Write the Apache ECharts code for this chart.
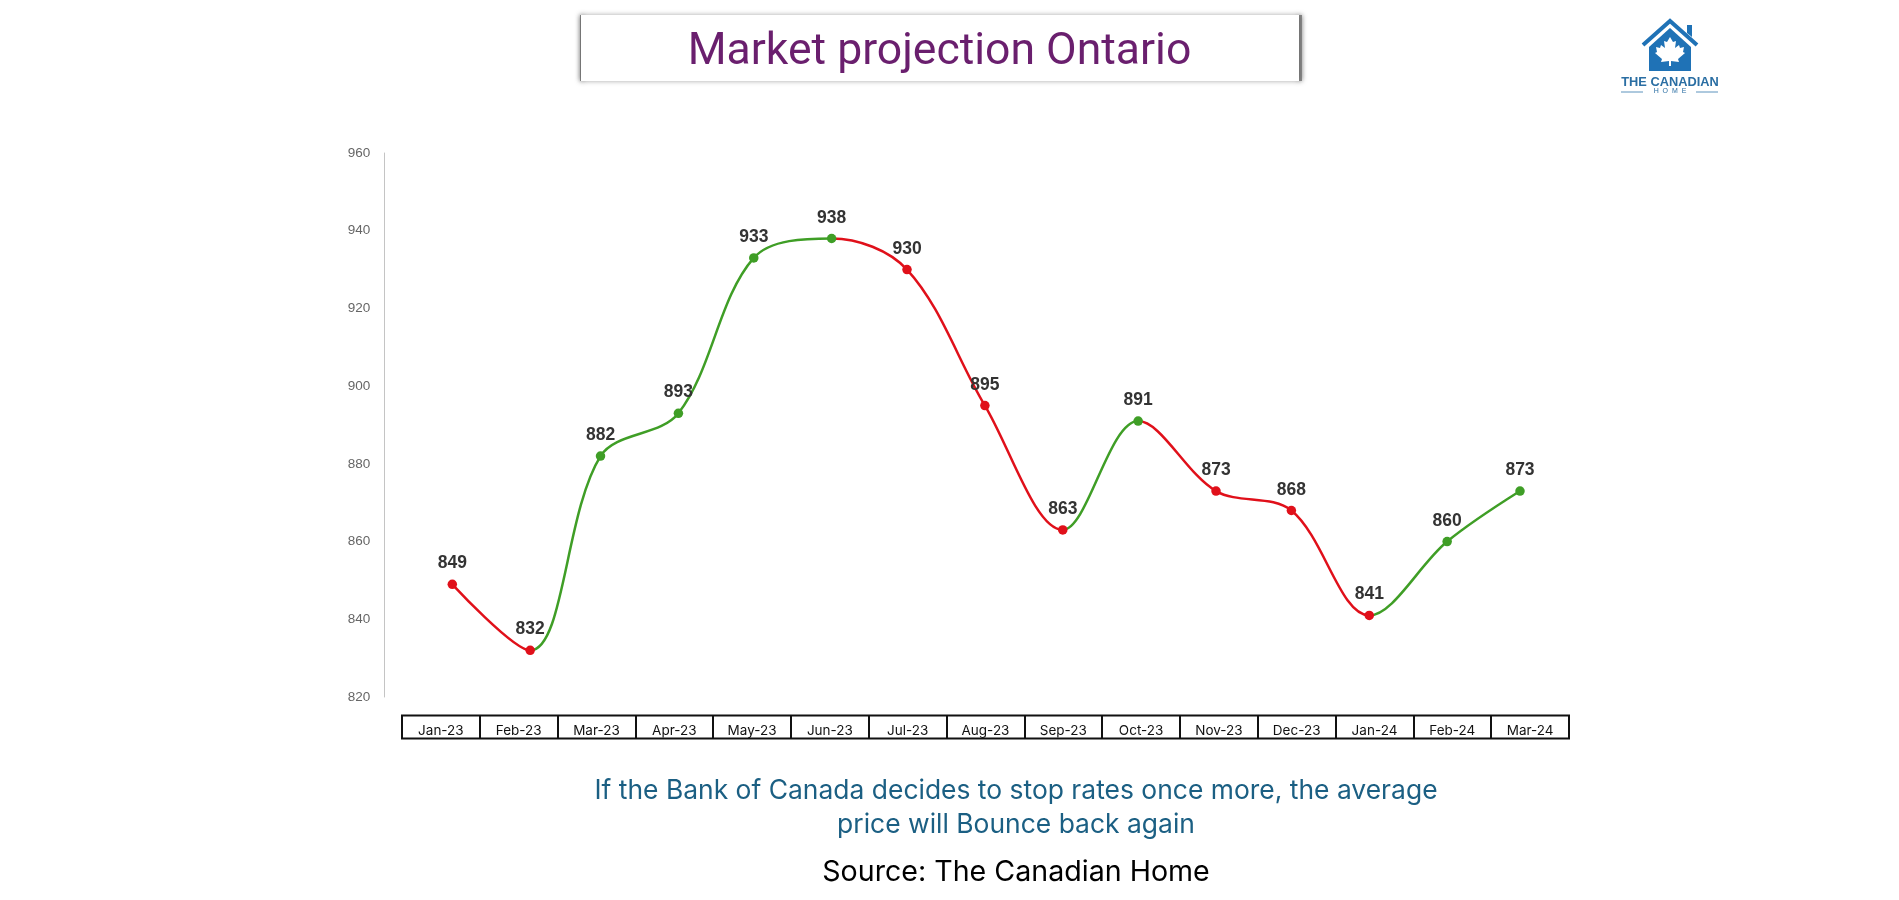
<!DOCTYPE html>
<html>
<head>
<meta charset="utf-8">
<title>Market projection Ontario</title>
<script src="https://cdn.jsdelivr.net/npm/echarts@6/dist/echarts.min.js"></script>
<style>
  html, body { margin: 0; padding: 0; background: #fff; }
  #chart { width: 1899px; height: 900px; }
</style>
</head>
<body>
<div id="chart"></div>
<script>
// Average price by month, in thousands
const months = ['Jan-23','Feb-23','Mar-23','Apr-23','May-23','Jun-23','Jul-23','Aug-23','Sep-23','Oct-23','Nov-23','Dec-23','Jan-24','Feb-24','Mar-24'];
const monthStarts = ['2023-01-01','2023-02-01','2023-03-01','2023-04-01','2023-05-01','2023-06-01','2023-07-01','2023-08-01','2023-09-01','2023-10-01','2023-11-01','2023-12-01','2024-01-01','2024-02-01','2024-03-01'];
const prices = [849, 832, 882, 893, 933, 938, 930, 895, 863, 891, 873, 868, 841, 860, 873];

const RED = '#e0101a';
const GREEN = '#3f9e26';
const BLUE = '#1f72b6';

const stamp = s => Date.parse(s + 'T00:00:00Z');

// Falling stretches are red, rising stretches green, split at the turning months
const trendPieces = [
  { lte: stamp('2023-02-01'), color: RED },
  { gt: stamp('2023-02-01'), lte: stamp('2023-06-01'), color: GREEN },
  { gt: stamp('2023-06-01'), lte: stamp('2023-09-01'), color: RED },
  { gt: stamp('2023-09-01'), lte: stamp('2023-10-01'), color: GREEN },
  { gt: stamp('2023-10-01'), lte: stamp('2024-01-01'), color: RED },
  { gt: stamp('2024-01-01'), color: GREEN }
];

const chart = echarts.init(document.getElementById('chart'));

chart.setOption({
  animation: false,
  backgroundColor: '#fff',
  title: {
    text: 'Market projection Ontario',
    left: 934.5, top: 25, textAlign: 'center',
    textStyle: { color: '#6a1f6e', fontFamily: 'Roboto', fontWeight: 400, fontSize: 44.5 }
  },
  grid: [
    { left: 452.3, top: 153, width: 1067.7, height: 544 },
    { left: 402, top: 715.5, width: 1167, height: 23, show: true,
      borderColor: '#111', borderWidth: 2, backgroundColor: 'transparent' }
  ],
  xAxis: [
    { type: 'time', gridIndex: 0, show: false,
      min: stamp(monthStarts[0]), max: stamp(monthStarts[monthStarts.length - 1]) },
    { type: 'category', gridIndex: 1, data: months, position: 'bottom',
      axisLine: { show: false }, axisTick: { show: false },
      splitLine: { show: true, interval: 0, lineStyle: { color: '#111', width: 2 } },
      axisLabel: { inside: true, margin: 1, interval: 0, color: '#111', fontFamily: 'Inter', fontSize: 13.5 } }
  ],
  yAxis: [
    { type: 'value', gridIndex: 0, min: 820, max: 960, interval: 20, offset: 68,
      axisLine: { show: true, onZero: false, lineStyle: { color: '#c4c4c4', width: 1 } },
      axisTick: { show: false }, splitLine: { show: false },
      axisLabel: { margin: 14, color: '#666', fontFamily: 'Liberation Sans', fontSize: 13.5 } },
    { type: 'value', gridIndex: 1, show: false, splitLine: { show: false } }
  ],
  visualMap: {
    show: false, type: 'piecewise', dimension: 0, seriesIndex: 0, pieces: trendPieces
  },
  series: [{
    type: 'line', xAxisIndex: 0, yAxisIndex: 0, clip: false,
    data: monthStarts.map((d, i) => [stamp(d), prices[i]]),
    smooth: 0.34,
    symbol: 'circle', symbolSize: 9.5,
    lineStyle: { width: 2.5 },
    label: {
      show: true, position: 'top', distance: 7,
      color: '#333', fontFamily: 'Liberation Sans', fontWeight: 'bold', fontSize: 17.5
    }
  }],
  graphic: [
    // Title banner
    { type: 'rect', z: 0, shape: { x: 580, y: 15, width: 3, height: 66 },
      style: { fill: '#8a8a8a', shadowBlur: 5, shadowColor: 'rgba(0,0,0,0.5)' } },
    { type: 'rect', z: 0, shape: { x: 1298, y: 15, width: 4, height: 66 },
      style: { fill: '#8a8a8a', shadowBlur: 5, shadowColor: 'rgba(0,0,0,0.5)' } },
    { type: 'rect', z: 1, shape: { x: 581, y: 15, width: 718, height: 66 },
      style: { fill: '#fff', shadowBlur: 5, shadowColor: 'rgba(0,0,0,0.35)' } },

    // Logo: house
    { type: 'polygon', shape: { points: [[1687,25],[1692,25],[1692,37],[1687,33]] }, style: { fill: BLUE } },
    { type: 'polyline', shape: { points: [[1643,45],[1670,21],[1697,45]] },
      style: { stroke: BLUE, lineWidth: 4, fill: 'none' } },
    { type: 'polygon', shape: { points: [[1649,47],[1670,28],[1691,47],[1691,71],[1649,71]] }, style: { fill: BLUE } },
    // Logo: maple leaf
    { type: 'polygon', style: { fill: '#fff' }, shape: { points: [
      [1670,37],[1673,42],[1676,41],[1675,48],[1679,45],[1680,48],[1684,47],[1683,52],[1685,53],
      [1678,59],[1679,62],[1671,61],[1671,66],[1669,66],[1669,61],[1661,62],[1662,59],[1655,53],
      [1657,52],[1656,47],[1660,48],[1661,45],[1665,48],[1664,41],[1667,42]
    ] } },
    { type: 'text', style: { text: 'THE CANADIAN', x: 1670, y: 82, align: 'center', verticalAlign: 'middle',
      fill: '#2a6ea3', font: 'bold 12.8px "Liberation Sans"' } },
    { type: 'text', style: { text: 'H  O  M  E', x: 1670, y: 91, align: 'center', verticalAlign: 'middle',
      fill: '#2a6ea3', font: '7px "Liberation Sans"' } },
    { type: 'line', shape: { x1: 1621, y1: 92, x2: 1643, y2: 92 }, style: { stroke: '#5c93bd', lineWidth: 1 } },
    { type: 'line', shape: { x1: 1696, y1: 92, x2: 1718, y2: 92 }, style: { stroke: '#5c93bd', lineWidth: 1 } },

    // Commentary and source
    { type: 'text', style: { text: 'If the Bank of Canada decides to stop rates once more, the average',
      x: 1016, y: 791.5, align: 'center', verticalAlign: 'middle', fill: '#1b5f83', font: '26.45px Inter' } },
    { type: 'text', style: { text: 'price will Bounce back again',
      x: 1016, y: 825.5, align: 'center', verticalAlign: 'middle', fill: '#1b5f83', font: '26.45px Inter' } },
    { type: 'text', style: { text: 'Source: The Canadian Home',
      x: 1016, y: 872, align: 'center', verticalAlign: 'middle', fill: '#000', font: '28.6px Inter' } }
  ]
});
</script>
</body>
</html>
